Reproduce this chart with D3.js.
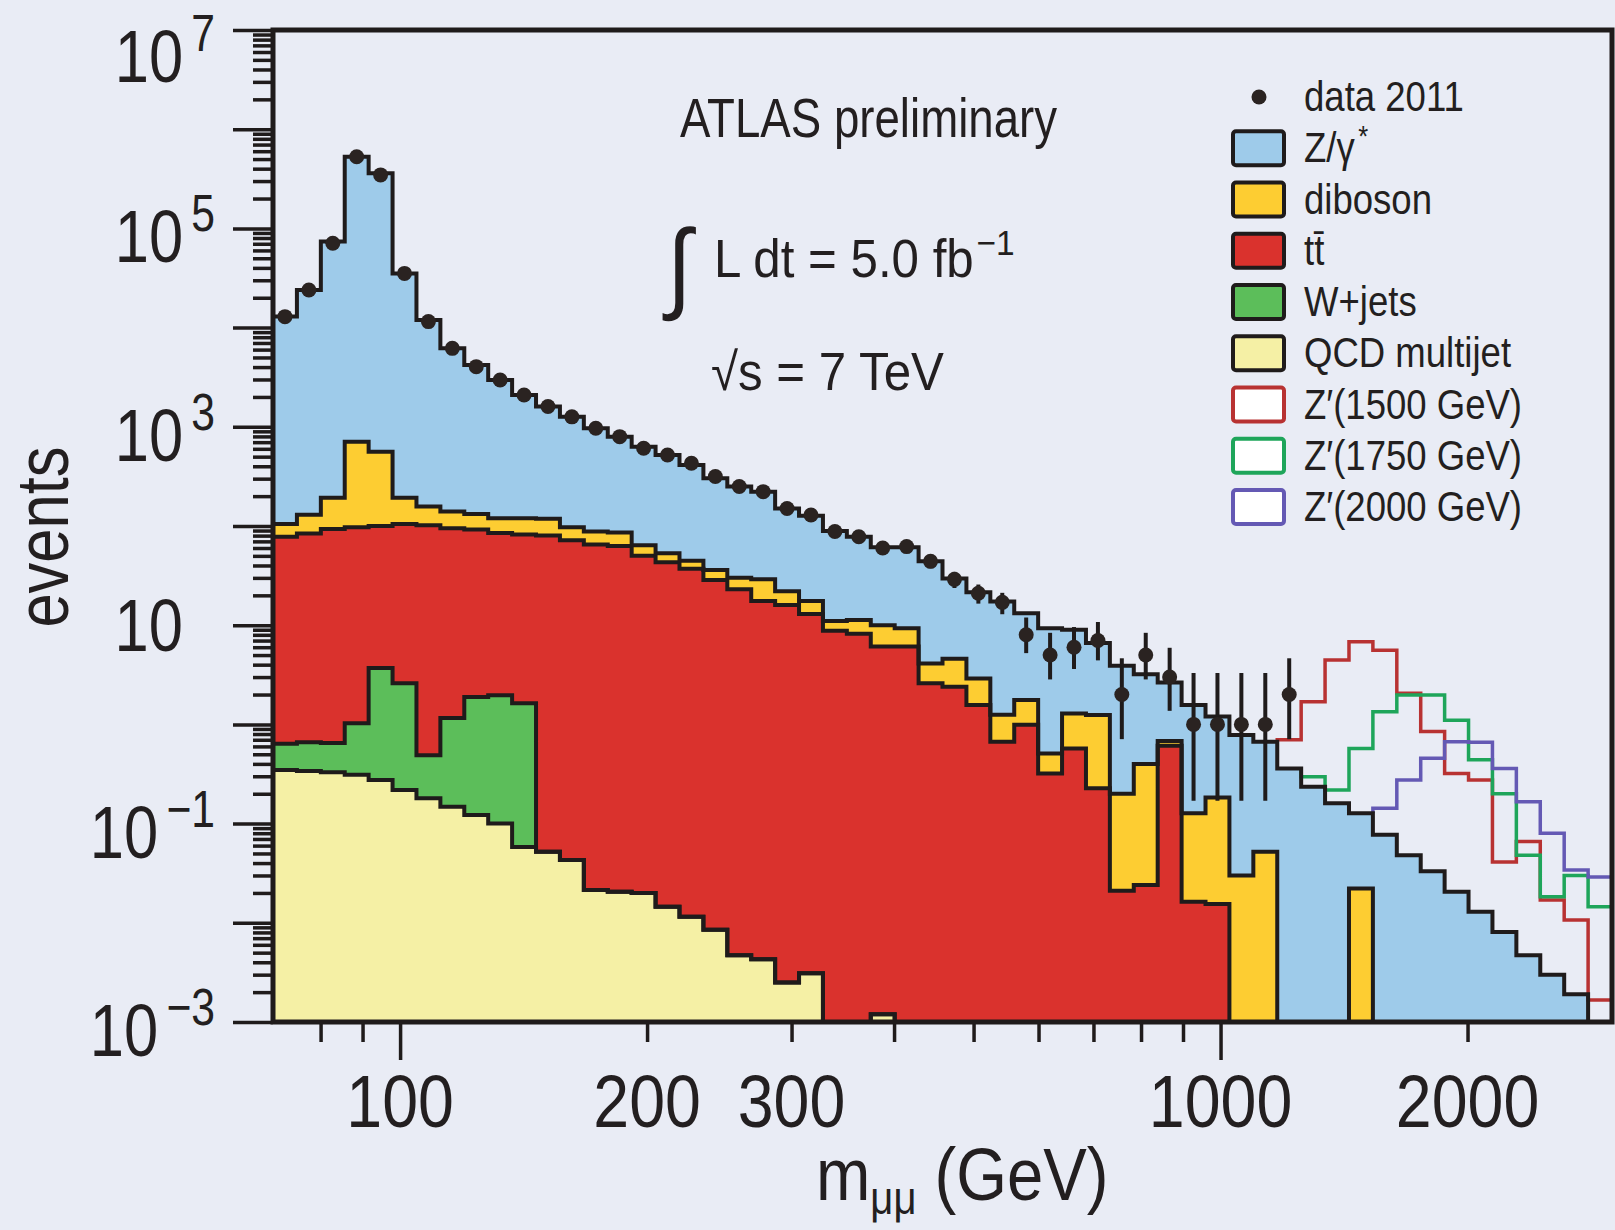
<!DOCTYPE html>
<html>
<head>
<meta charset="utf-8">
<script src="https://cdn.jsdelivr.net/npm/d3@7"></script>
<style>
  body { margin: 0; background: #e9ecf5; }
  svg { display: block; }
  text { font-family: "Liberation Sans", Arial, sans-serif; fill: #231f20; }
</style>
</head>
<body>
<svg id="chart" width="1615" height="1230"></svg>
<script>
'use strict'

// 56 log-spaced mass bins, 70 - 3000 GeV
const binEdges = [70, 74.86, 80.06, 85.61, 91.55, 97.91, 104.7, 111.97, 119.74, 128.05, 136.94,
  146.45, 156.61, 167.48, 179.11, 191.54, 204.83, 219.05, 234.25, 250.51, 267.9,
  286.49, 306.37, 327.64, 350.38, 374.7, 400.71, 428.52, 458.26, 490.07, 524.08,
  560.45, 599.35, 640.95, 685.44, 733.01, 783.88, 838.29, 896.47, 958.69, 1025.2,
  1096.4, 1172.5, 1253.9, 1340.9, 1434.0, 1533.5, 1640.0, 1753.8, 1875.5, 2005.7,
  2144.9, 2293.8, 2453.0, 2623.3, 2805.4, 3000]

// backgrounds, events per bin (stacked bottom -> top)
const qcd = [0.347, 0.34, 0.33, 0.31, 0.275, 0.218, 0.18, 0.148, 0.122, 0.10, 0.058, 0.052, 0.043, 0.0214,
  0.0206, 0.020, 0.0145, 0.0115, 0.0085, 0.0047, 0.0043, 0.0025, 0.0031, 0, 0, 0.0012, 0, 0, 0, 0,
  0, 0, 0, 0, 0, 0, 0, 0, 0, 0, 0, 0, 0, 0, 0, 0, 0, 0, 0, 0, 0, 0, 0, 0, 0, 0]
const wjets = [0.29, 0.32, 0.32, 0.72, 3.43, 2.38, 0.31, 1.01, 1.77, 1.87, 1.58, 0, 0, 0, 0, 0, 0, 0, 0, 0,
  0, 0, 0, 0, 0, 0, 0, 0, 0, 0, 0, 0, 0, 0, 0, 0, 0, 0, 0, 0, 0, 0, 0, 0, 0, 0, 0, 0, 0, 0, 0, 0, 0, 0, 0, 0]
const ttbar = [77.4, 83.3, 92.4, 96, 96.3, 102.4, 101.5, 93.8, 90.1, 83, 80.4, 80, 72, 65, 63, 50, 43, 37,
  28.5, 23, 17.5, 16, 13, 8.8, 8.2, 6.1, 6.1, 2.6, 2.4, 1.57, 0.67, 0.99, 0.32, 0.57, 0.227, 0.021, 0.024,
  0.61, 0.0163, 0.0155, 0, 0, 0, 0, 0, 0, 0, 0, 0, 0, 0, 0, 0, 0, 0, 0]
const diboson = [27, 46, 100, 611, 461, 88, 55, 45, 40, 35, 38, 38, 25, 23, 23, 14, 10, 7.5, 7.5, 7, 11.5,
  6, 4.5, 2.2, 3.1, 3.9, 3.2, 1.5, 2.2, 1.33, 0.58, 0.77, 0.19, 0.72, 1.02, 0.179, 0.376, 0.07, 0.111,
  0.168, 0.030, 0.052, 0, 0, 0, 0.0222, 0, 0, 0, 0, 0, 0, 0, 0, 0, 0]
const zgamma = [12800, 23770, 73400, 527300, 358400, 35000, 11740, 6040, 4070, 2840, 1970, 1482, 1163,
  878, 710, 567, 467, 367, 267, 220, 193, 128, 109.5, 78, 66.7, 51, 51.7, 39.9, 24.9, 18.6, 16.05,
  11.44, 8.79, 7.71, 5.35, 3.7, 2.8, 1.97, 1.44, 1.02, 0.75, 0.618, 0.36, 0.235, 0.16, 0.105, 0.077,
  0.048, 0.033, 0.0206, 0.0129, 0.0081, 0.0047, 0.003, 0.0019, 0.0008]

// data 2011 (bins 0..42) and 68% interval for the low-count bins
const dataCounts = [12900, 23900, 70800, 528000, 346000, 35200, 11500, 6180, 4040, 2960, 2090, 1600,
  1260, 966, 796, 607, 520, 429, 315, 250, 222, 150, 129, 88, 78, 60, 62, 44, 29, 21, 17, 8, 5, 6, 7,
  2, 5, 3, 1, 1, 1, 1, 2]
const errFirstBin = 27
const dataLow = [37.5, 23.7, 16.5, 12.9, 5.23, 2.84, 3.62, 4.42, 0.71, 2.84, 1.37, 0.17, 0.17, 0.17, 0.17, 0.71]
const dataHigh = [51.1, 34.5, 25.7, 21.2, 11.95, 8.38, 9.58, 10.77, 4.64, 8.38, 5.92, 3.30, 3.30, 3.30, 3.30, 4.64]

// Z' signal + background, from the first bin where it leaves the SM line
const zp1500Start = 42
const zp1500 = [0.70, 1.69, 4.46, 6.8, 5.6, 2.06, 0.85, 0.32, 0.275, 0.041, 0.066, 0.017, 0.0107, 0.00167]
const zp1750Start = 43
const zp1750 = [0.297, 0.218, 0.57, 1.34, 1.98, 1.98, 1.1, 0.44, 0.20, 0.048, 0.0183, 0.030, 0.0145]
const zp2000Start = 46
const zp2000 = [0.143, 0.275, 0.455, 0.67, 0.66, 0.36, 0.166, 0.08, 0.034, 0.029]

const yMajorTicks = [1e-3, 1e-2, 1e-1, 1, 10, 100, 1e3, 1e4, 1e5, 1e6, 1e7]
const yLabelExps = [7, 5, 3, 1, -1, -3]
const xMajorTicks = [100, 1000]
const xMinorTicks = [80, 90, 200, 300, 400, 500, 600, 700, 800, 900, 2000]
const xLabels = [100, 200, 300, 1000, 2000]

const colors = {
  bg: "#e9ecf5", ink: "#1f1b1b",
  zgamma: "#9ecbea", diboson: "#fdcd32", ttbar: "#da322d", wjets: "#5cbe5a", qcd: "#f5f0a5",
  zp1500: "#b83232", zp1750: "#1ea55a", zp2000: "#6459b4"
}

const W = 1615, H = 1230
const plot = {left: 273, right: 1612, top: 30, bottom: 1022}

let svg = d3.select("#chart")
svg.append("rect").attr("width", W).attr("height", H).attr("fill", colors.bg)

let x = d3.scaleLog().domain([70, 3000]).range([plot.left, plot.right])
let y = d3.scaleLog().domain([1e-3, 1e7]).range([plot.bottom, plot.top]).clamp(true)

// condensed look: regular sans squeezed horizontally
function label(parent, px, py, size, anchor, sx){
  return parent.append("g")
    .attr("transform", "translate(" + px + "," + py + ") scale(" + (sx || 0.84) + ",1)")
    .append("text")
    .attr("text-anchor", anchor || "start")
    .style("font-size", size + "px")
}

svg.append("clipPath").attr("id", "plotclip")
  .append("rect").attr("x", plot.left).attr("y", plot.top)
  .attr("width", plot.right - plot.left).attr("height", plot.bottom - plot.top)

let g = svg.append("g").attr("clip-path", "url(#plotclip)")

// stack
let keys = ["qcd", "wjets", "ttbar", "diboson", "zgamma"]
let series = {qcd: qcd, wjets: wjets, ttbar: ttbar, diboson: diboson, zgamma: zgamma}
let rows = binEdges.slice(0, -1).map(function(lo, i){
  let r = {lo: lo, hi: binEdges[i + 1]}
  keys.forEach(function(k){ r[k] = series[k][i] })
  return r
})
let layers = d3.stack().keys(keys)(rows)
let lastEdge = binEdges[binEdges.length - 1]

function stepPoints(layer){
  let pts = layer.map(function(d){ return [x(d.data.lo), d[0], d[1]] })
  let last = layer[layer.length - 1]
  pts.push([x(lastEdge), last[0], last[1]])
  return pts
}

let area = d3.area().curve(d3.curveStepAfter)
  .x(d => d[0]).y0(d => y(d[1])).y1(d => y(d[2]))
let topLine = d3.line().curve(d3.curveStepAfter)
  .x(d => d[0]).y(d => y(d[2]))

g.selectAll(".band").data(layers).join("path")
  .attr("class", "band")
  .attr("d", d => area(stepPoints(d)))
  .attr("fill", d => colors[d.key])

// Z' outlines
let smTop = layers[layers.length - 1]
function signalPoints(start, vals){
  let pts = [[x(binEdges[start]), smTop[start - 1][1]]]
  vals.forEach(function(v, j){ pts.push([x(binEdges[start + j]), v]) })
  pts.push([x(binEdges[start + vals.length]), vals[vals.length - 1]])
  return pts
}
let sigLine = d3.line().curve(d3.curveStepAfter).x(d => d[0]).y(d => y(d[1]))
let signals = [
  {start: zp1500Start, vals: zp1500, color: colors.zp1500},
  {start: zp1750Start, vals: zp1750, color: colors.zp1750},
  {start: zp2000Start, vals: zp2000, color: colors.zp2000}
]
g.selectAll(".sig").data(signals).join("path")
  .attr("class", "sig")
  .attr("d", d => sigLine(signalPoints(d.start, d.vals)))
  .attr("fill", "none")
  .attr("stroke", d => d.color)
  .attr("stroke-width", 3.5)

g.selectAll(".outline").data(layers).join("path")
  .attr("class", "outline")
  .attr("d", d => topLine(stepPoints(d)))
  .attr("fill", "none")
  .attr("stroke", colors.ink)
  .attr("stroke-width", 4)

// data points
let pts = dataCounts.map(function(c, i){
  let j = i - errFirstBin
  return {
    cx: x(Math.sqrt(binEdges[i] * binEdges[i + 1])),
    v: c,
    lo: j >= 0 ? dataLow[j] : null,
    hi: j >= 0 ? dataHigh[j] : null
  }
})
g.selectAll(".err").data(pts.filter(d => d.lo !== null)).join("line")
  .attr("class", "err")
  .attr("x1", d => d.cx).attr("x2", d => d.cx)
  .attr("y1", d => y(d.lo)).attr("y2", d => y(d.hi))
  .attr("stroke", colors.ink).attr("stroke-width", 4)
g.selectAll(".dot").data(pts).join("circle")
  .attr("class", "dot")
  .attr("cx", d => d.cx).attr("cy", d => y(d.v))
  .attr("r", 7.5)
  .attr("fill", "#2a2321")

// axes
function styleAxis(sel){
  sel.select(".domain").remove()
  sel.selectAll(".tick line").attr("stroke", colors.ink).attr("stroke-width", 3.5)
}
let yMinor = []
yMajorTicks.slice(0, -1).forEach(function(t){
  d3.range(2, 10).forEach(function(k){ yMinor.push(t * k) })
})
svg.append("g").attr("transform", "translate(" + plot.left + ",0)")
  .call(d3.axisLeft(y).tickValues(yMinor).tickSize(20).tickSizeOuter(0).tickFormat(""))
  .call(styleAxis)
svg.append("g").attr("transform", "translate(" + plot.left + ",0)")
  .call(d3.axisLeft(y).tickValues(yMajorTicks).tickSize(40).tickSizeOuter(0).tickFormat(""))
  .call(styleAxis)
svg.append("g").attr("transform", "translate(0," + plot.bottom + ")")
  .call(d3.axisBottom(x).tickValues(xMinorTicks).tickSize(20).tickSizeOuter(0).tickFormat(""))
  .call(styleAxis)
svg.append("g").attr("transform", "translate(0," + plot.bottom + ")")
  .call(d3.axisBottom(x).tickValues(xMajorTicks).tickSize(38).tickSizeOuter(0).tickFormat(""))
  .call(styleAxis)

svg.append("rect")
  .attr("x", plot.left).attr("y", plot.top)
  .attr("width", plot.right - plot.left).attr("height", plot.bottom - plot.top)
  .attr("fill", "none").attr("stroke", colors.ink).attr("stroke-width", 5)

// y tick labels
yLabelExps.forEach(function(e){
  let ty = y(Math.pow(10, e))
  if(e == 1){
    label(svg, 183, ty + 26, 75, "end", 0.82).text("10")
    return
  }
  let t = label(svg, 215, Math.max(ty + 34, 82), 75, "end", 0.82)
  t.append("tspan").text("10")
  t.append("tspan").attr("dx", 10).attr("dy", -31).style("font-size", "52px")
    .text(e < 0 ? "\u2212" + (-e) : String(e))
})

// x tick labels
xLabels.forEach(function(v){
  label(svg, x(v), 1127, 75, "middle", 0.86).text(v)
})

// axis titles
let xt = label(svg, 816, 1200, 75, "start", 0.87)
xt.append("tspan").text("m")
xt.append("tspan").attr("dy", 14).style("font-size", "46px").text("\u03bc\u03bc")
xt.append("tspan").attr("dy", -14).text(" (GeV)")

svg.append("g").attr("transform", "translate(68,537) rotate(-90) scale(0.82,1)")
  .append("text")
  .attr("text-anchor", "middle").style("font-size", "75px")
  .text("events")

// annotations
label(svg, 680, 137, 55, "start", 0.83).text("ATLAS preliminary")
label(svg, 667, 300, 100, "start", 0.9).text("\u222b")
let lum = label(svg, 714, 277, 53, "start", 0.93)
lum.append("tspan").text("L dt = 5.0 fb")
lum.append("tspan").attr("dx", 3).attr("dy", -22).style("font-size", "36px").text("\u22121")
label(svg, 711, 390, 53, "start", 0.93).text("\u221as = 7 TeV")

// legend
const legendLabels = [["data 2011", ""], ["Z/\u03b3", "*"], ["diboson", ""], ["t\u0074\u0304", ""],
  ["W+jets", ""], ["QCD multijet", ""], ["Z\u2032(1500 GeV)", ""], ["Z\u2032(1750 GeV)", ""], ["Z\u2032(2000 GeV)", ""]]
const legendFill = [null, colors.zgamma, colors.diboson, colors.ttbar, colors.wjets, colors.qcd, "#ffffff", "#ffffff", "#ffffff"]
const legendStroke = [null, colors.ink, colors.ink, colors.ink, colors.ink, colors.ink, colors.zp1500, colors.zp1750, colors.zp2000]

let leg = svg.append("g")
legendLabels.forEach(function(lab, i){
  let cy = 97 + i * 51.25
  if(i == 0){
    leg.append("circle").attr("cx", 1259).attr("cy", cy).attr("r", 7.5).attr("fill", "#2a2321")
  } else {
    leg.append("rect").attr("x", 1233).attr("y", cy - 17).attr("width", 51).attr("height", 34)
      .attr("rx", 3)
      .attr("fill", legendFill[i]).attr("stroke", legendStroke[i]).attr("stroke-width", 4)
  }
  let t = label(leg, 1304, cy + 14, 43, "start", 0.85)
  t.append("tspan").text(lab[0])
  if(lab[1]) t.append("tspan").attr("dx", 4).attr("dy", -16).style("font-size", "30px").text(lab[1])
})
</script>
</body>
</html>
